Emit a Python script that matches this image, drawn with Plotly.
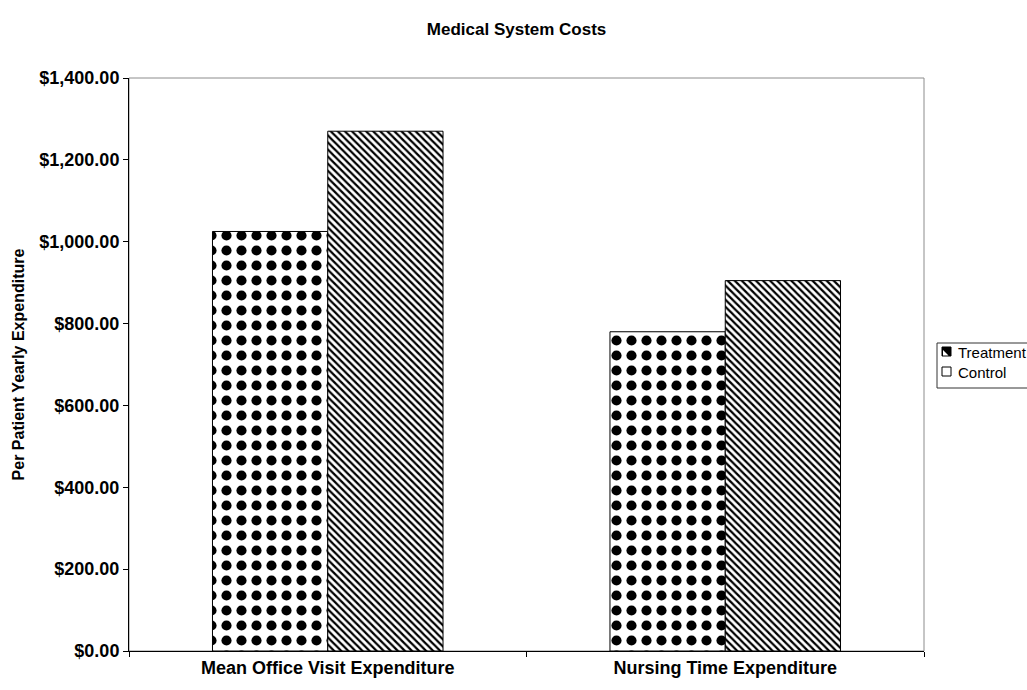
import plotly.graph_objects as go

categories = ["Mean Office Visit Expenditure", "Nursing Time Expenditure"]
treatment = [1025, 780]
control = [1270, 905]
series_names = ["Treatment", "Control"]

FONT = "Liberation Sans, Arial, sans-serif"

fig = go.Figure()
fig.add_trace(go.Bar(
    name=series_names[0], x=categories, y=treatment,
    marker=dict(color="white", line=dict(color="black", width=1),
                pattern=dict(shape=".", size=15, solidity=0.36, fgopacity=1,
                             fgcolor="black", bgcolor="white", fillmode="overlay")),
))
fig.add_trace(go.Bar(
    name=series_names[1], x=categories, y=control,
    marker=dict(color="white", line=dict(color="black", width=1),
                pattern=dict(shape="\\", size=5, solidity=0.45, fgopacity=1,
                             fgcolor="black", bgcolor="white", fillmode="overlay")),
))

# Plot area spans 129..924 px horizontally and 78..651 px vertically
PL, PR, PT, PB = 129, 924, 78, 651


def px_x(p):
    return (p - PL) / (PR - PL)


def px_y(p):
    return (PB - p) / (PB - PT)


# Hand-built legend box at the right edge
legend_shapes = [
    dict(type="rect", xref="paper", yref="paper",
         x0=px_x(937), x1=px_x(1040), y0=px_y(388), y1=px_y(343),
         line=dict(color="#333333", width=1), fillcolor="white", layer="above"),
    # Treatment swatch
    dict(type="rect", xref="paper", yref="paper",
         x0=px_x(942), x1=px_x(951), y0=px_y(356), y1=px_y(347),
         line=dict(color="black", width=1), fillcolor="black", layer="above"),
    dict(type="path", xref="paper", yref="paper",
         path="M {0} {1} L {0} {2} L {3} {1} Z".format(px_x(943), px_y(355.5), px_y(350), px_x(948.5)),
         line=dict(width=0), fillcolor="white", layer="above"),
    # Control swatch
    dict(type="rect", xref="paper", yref="paper",
         x0=px_x(942), x1=px_x(951), y0=px_y(376), y1=px_y(367),
         line=dict(color="black", width=1), fillcolor="white", layer="above"),
]
legend_labels = [
    dict(text=series_names[0], xref="paper", yref="paper", x=px_x(956), y=px_y(352),
         xanchor="left", yanchor="middle", showarrow=False,
         font=dict(size=15, family=FONT, color="black")),
    dict(text=series_names[1], xref="paper", yref="paper", x=px_x(956), y=px_y(372),
         xanchor="left", yanchor="middle", showarrow=False,
         font=dict(size=15, family=FONT, color="black")),
]

fig.update_layout(
    width=1027, height=690,
    margin=dict(l=PL, r=1027 - PR, t=PT, b=690 - PB, autoexpand=False),
    paper_bgcolor="white", plot_bgcolor="white",
    barmode="group", bargap=0.42, bargroupgap=0,
    showlegend=False,
    font=dict(family=FONT, color="black"),
    title=dict(text="<b>Medical System Costs</b>", x=0.503, xanchor="center",
               y=0.958, yanchor="middle", font=dict(size=17, family=FONT)),
    shapes=[dict(type="rect", xref="paper", yref="paper", x0=0, x1=1, y0=0, y1=1,
                 line=dict(color="#8c8c8c", width=1), layer="below")] + legend_shapes,
    annotations=legend_labels,
)
fig.update_xaxes(
    showline=True, linecolor="black", linewidth=1,
    ticks="outside", ticklen=5, tickcolor="black", tickson="boundaries",
    tickfont=dict(size=18, family=FONT), showgrid=False,
    tickprefix="<b>", ticksuffix="</b>",
)
fig.update_yaxes(
    range=[0, 1400], dtick=200, tickformat="$,.2f",
    showline=True, linecolor="black", linewidth=1,
    ticks="outside", ticklen=5, tickcolor="black",
    tickfont=dict(size=18, family=FONT), showgrid=False, zeroline=False,
    tickprefix="<b>", ticksuffix="</b>",
    title=dict(text="<b>Per Patient Yearly Expenditure</b>", font=dict(size=16, family=FONT),
               standoff=10),
)

fig.write_html("out.html")
